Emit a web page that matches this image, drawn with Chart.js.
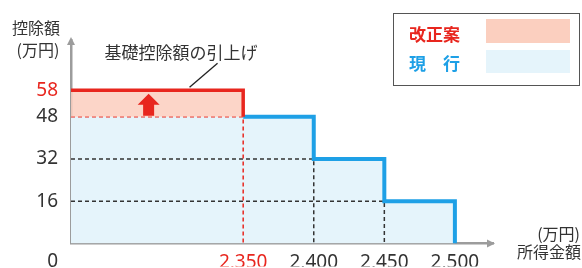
<!DOCTYPE html>
<html lang="ja">
<head>
<meta charset="utf-8">
<script src="https://cdn.jsdelivr.net/npm/chart.js@4.4.1/dist/chart.umd.min.js"></script>
<style>
  body { margin: 0; background: #fff; }
  #wrap { width: 582px; height: 268px; position: relative; }
</style>
</head>
<body>
<div id="wrap"><canvas id="deduction-chart"></canvas></div>
<script>
// 所得金額の区切り (万円) と、その区切りまでの控除額 (万円)
const incomeBrackets = [2350, 2400, 2450, 2500];
const currentDeduction = [48, 48, 32, 16];
const proposedDeduction = [58, 48, 32, 16];
const incomeTicks = [2350, 2400, 2450, 2500];
const deductionTicks = [0, 16, 32, 48, 58];
const seriesLabels = ["改正案", "現　行"];
const annotationText = "基礎控除額の引上げ";
const raiseArrowIncome = 2283;
const leaderIncome = 2312;

const xMin = 2228;
const xMax = 2527;
const yMax = 77;

const RED = "#e8261e";
const PINK = "rgba(251, 206, 190, 0.85)";
const BLUE = "#1ea0e6";
const LIGHT_BLUE = "#e5f4fb";
const AXIS_GREY = "#9c9c9c";
const TEXT = "#333";
const JP_FONT = "'Noto Sans CJK JP', sans-serif";
const NUM_FONT = "'Noto Sans', sans-serif";

function stepPoints(values, startX, fromIndex) {
    const pts = [];
    let x = startX;
    for (let i = fromIndex; i < values.length; i++) {
        pts.push({ x: x, y: values[i] });
        pts.push({ x: incomeBrackets[i], y: values[i] });
        x = incomeBrackets[i];
    }
    pts.push({ x: x, y: 0 });
    return pts;
}

function guidePoints(i) {
    return [
        { x: xMin, y: currentDeduction[i] },
        { x: incomeBrackets[i - 1], y: currentDeduction[i] },
        { x: incomeBrackets[i - 1], y: 0 }
    ];
}

const datasets = [
    {   // 現行 fill
        label: seriesLabels[1],
        data: stepPoints(currentDeduction, xMin, 0),
        borderWidth: 0,
        borderColor: "transparent",
        backgroundColor: LIGHT_BLUE,
        fill: "origin",
        order: 5
    },
    {   // 改正案 fill + red line
        label: seriesLabels[0],
        data: [
            { x: xMin, y: proposedDeduction[0] },
            { x: incomeBrackets[0], y: proposedDeduction[0] },
            { x: incomeBrackets[0], y: proposedDeduction[1] }
        ],
        borderColor: RED,
        borderWidth: 3.5,
        backgroundColor: PINK,
        fill: { value: currentDeduction[0] },
        order: 1
    },
    {   // 現行 line
        label: "current-line",
        data: stepPoints(currentDeduction, incomeBrackets[0], 1),
        borderColor: BLUE,
        borderWidth: 4,
        fill: false,
        order: 2
    }
];

for (let i = 1; i < currentDeduction.length; i++) {
    datasets.push({
        label: "guide-" + i,
        data: guidePoints(i),
        borderColor: i === 1 ? RED : "#333",
        borderWidth: 1.5,
        borderDash: [4, 3],
        fill: false,
        order: 3
    });
}

const decorPlugin = {
    id: "decor",
    afterDatasetsDraw(chart) {
        const ctx = chart.ctx;
        const x = chart.scales.x;
        const y = chart.scales.y;
        ctx.save();

        // raise arrow
        const ax = x.getPixelForValue(raiseArrowIncome);
        const top = y.getPixelForValue(proposedDeduction[0]) + 3.5;
        const bottom = y.getPixelForValue(currentDeduction[0]) - 1;
        ctx.fillStyle = RED;
        ctx.beginPath();
        ctx.moveTo(ax, top);
        ctx.lineTo(ax + 11, top + 11);
        ctx.lineTo(ax + 5.5, top + 11);
        ctx.lineTo(ax + 5.5, bottom);
        ctx.lineTo(ax - 5.5, bottom);
        ctx.lineTo(ax - 5.5, top + 11);
        ctx.lineTo(ax - 11, top + 11);
        ctx.closePath();
        ctx.fill();
        ctx.restore();
    },
    afterDraw(chart) {
        const ctx = chart.ctx;
        const area = chart.chartArea;
        const x = chart.scales.x;
        const y = chart.scales.y;
        ctx.save();

        // axis arrowheads
        ctx.fillStyle = AXIS_GREY;
        ctx.beginPath();
        ctx.moveTo(area.left, area.top - 3);
        ctx.lineTo(area.left + 4, area.top + 5);
        ctx.lineTo(area.left - 4, area.top + 5);
        ctx.closePath();
        ctx.fill();
        ctx.beginPath();
        ctx.moveTo(area.right + 2, area.bottom);
        ctx.lineTo(area.right - 6, area.bottom - 4);
        ctx.lineTo(area.right - 6, area.bottom + 4);
        ctx.closePath();
        ctx.fill();

        // origin label
        ctx.fillStyle = TEXT;
        ctx.font = "19px " + NUM_FONT;
        ctx.textAlign = "right";
        ctx.textBaseline = "middle";
        ctx.fillText(String(deductionTicks[0]), area.left - 13, 262);

        // axis titles
        ctx.font = "16px " + JP_FONT;
        ctx.textAlign = "center";
        ctx.fillText("控除額", 36, 28);
        ctx.fillText("(万円)", 38, 50);
        ctx.textAlign = "right";
        ctx.fillText("(万円)", 580, 234);
        ctx.fillText("所得金額", 581, 252);

        // annotation + leader line
        ctx.textAlign = "center";
        ctx.font = "17px " + JP_FONT;
        ctx.fillText(annotationText, 181, 53);
        const lx = x.getPixelForValue(leaderIncome);
        const ly = y.getPixelForValue(proposedDeduction[0]) - 3;
        ctx.strokeStyle = "#222";
        ctx.lineWidth = 1.3;
        ctx.beginPath();
        ctx.moveTo(lx, ly);
        ctx.lineTo(lx + 28, ly - 24);
        ctx.stroke();

        // legend box
        ctx.strokeStyle = "#555";
        ctx.lineWidth = 1;
        ctx.strokeRect(393.5, 13.5, 186, 72);
        ctx.font = "bold 17px " + JP_FONT;
        ctx.textAlign = "left";
        ctx.fillStyle = RED;
        ctx.fillText(seriesLabels[0], 409, 35);
        ctx.fillStyle = BLUE;
        ctx.fillText(seriesLabels[1], 409, 64);
        ctx.fillStyle = "#fbcfbf";
        ctx.fillRect(486, 19, 84, 24);
        ctx.fillStyle = LIGHT_BLUE;
        ctx.fillRect(486, 50, 84, 23);

        ctx.restore();
    }
};

new Chart(document.querySelector("#deduction-chart"), {
    type: "line",
    data: { datasets: datasets },
    options: {
        responsive: true,
        maintainAspectRatio: false,
        animation: false,
        events: [],
        layout: { padding: { top: 40, right: 89, left: 0, bottom: 0 } },
        elements: { point: { radius: 0 }, line: { tension: 0 } },
        plugins: {
            legend: { display: false },
            tooltip: { enabled: false }
        },
        scales: {
            x: {
                type: "linear",
                min: xMin,
                max: xMax,
                grid: { display: false, drawTicks: false },
                border: { display: true, color: AXIS_GREY, width: 2.5 },
                afterBuildTicks: scale => {
                    scale.ticks = incomeTicks.map(v => ({ value: v }));
                },
                afterFit: scale => { scale.height = 23; },
                ticks: {
                    autoSkip: false,
                    maxRotation: 0,
                    padding: 8,
                    font: { family: NUM_FONT, size: 19 },
                    color: c => c.tick.value === incomeBrackets[0] ? RED : TEXT,
                    callback: v => v.toLocaleString("en-US")
                }
            },
            y: {
                type: "linear",
                min: 0,
                max: yMax,
                grid: { display: false, drawTicks: false },
                border: { display: true, color: AXIS_GREY, width: 2.5 },
                afterBuildTicks: scale => {
                    scale.ticks = deductionTicks.filter(v => v > 0).map(v => ({ value: v }));
                },
                afterFit: scale => { scale.width = 71; },
                ticks: {
                    padding: 13,
                    font: { family: NUM_FONT, size: 19 },
                    color: c => c.tick.value === proposedDeduction[0] ? RED : TEXT
                }
            }
        }
    },
    plugins: [decorPlugin]
});
</script>
</body>
</html>
